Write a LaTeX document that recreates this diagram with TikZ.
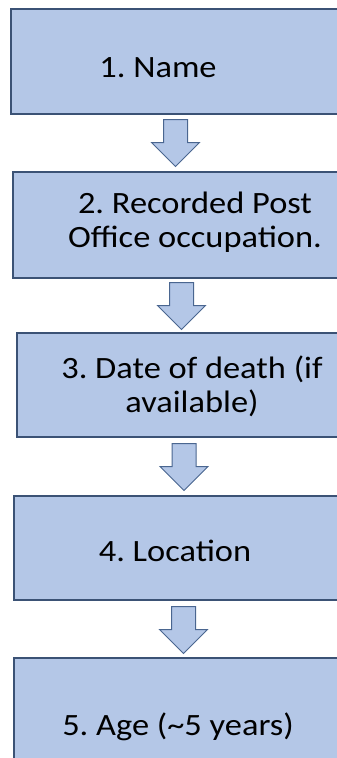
\documentclass[tikz,border=0pt]{standalone}
\usepackage{fontspec}
\setmainfont{Carlito}[FakeStretch=1.11]
\usetikzlibrary{shapes.arrows}
\definecolor{boxFill}{HTML}{B4C7E7}
\definecolor{boxLine}{HTML}{3B5275}
\definecolor{arrowLine}{HTML}{4A6690}

\begin{document}
\frenchspacing
\begin{tikzpicture}[x=1pt, y=-1pt,
    stage/.style={draw=boxLine, fill=boxFill, line width=1.6pt, rectangle,
      anchor=north west, minimum width=360pt, inner sep=0pt},
    stagetext/.style={font=\fontsize{31}{34}\selectfont, align=center,
      inner sep=0pt, anchor=base},
    downarrow/.style={single arrow, draw=arrowLine, fill=boxFill, line width=1pt,
      shape border rotate=270, minimum height=47pt,
      single arrow head extend=12pt, single arrow tip angle=90,
      inner sep=11.5pt, anchor=tail}]
    \useasboundingbox (0,0) rectangle (337,758);
    \clip (0,0) rectangle (337,758);
    % boxes
    \node[stage, minimum height=105pt] (name)     at (10,8)   {};
    \node[stage, minimum height=106pt] (occup)    at (12,171) {};
    \node[stage, minimum height=104pt] (death)    at (16,332) {};
    \node[stage, minimum height=104pt] (location) at (13,495) {};
    \node[stage, minimum height=130pt] (age)      at (13,657) {};
    % labels (base = last line)
    \node[stagetext] (nameText)     at (158,77)  {1. Name};
    \node[stagetext] (occupText)    at (195,247) {2. Recorded Post\\Office occupation.};
    \node[stagetext] (deathText)    at (192,412) {3. Date of death (if\\available)};
    \node[stagetext] (locationText) at (175,561) {4. Location};
    \node[stagetext] (ageText)      at (178,735) {5. Age (\textasciitilde5 years)};
    % block arrows
    \node[downarrow] (a1) at (175.5,119) {};
    \node[downarrow] (a2) at (181.5,282) {};
    \node[downarrow] (a3) at (184,443) {};
    \node[downarrow] (a4) at (183.5,606) {};
\end{tikzpicture}
\end{document}
